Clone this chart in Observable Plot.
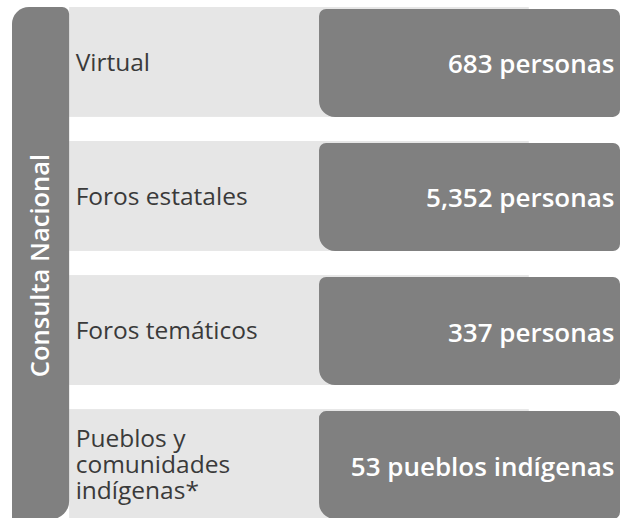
<!DOCTYPE html>
<html>
<head>
<meta charset="utf-8">
<script src="https://cdn.jsdelivr.net/npm/d3@7"></script>
<script src="https://cdn.jsdelivr.net/npm/@observablehq/plot@0.6"></script>
<style>
  html, body { margin: 0; padding: 0; background: #fff; }
  svg { display: block; }
</style>
</head>
<body>
<div id="chart"></div>
<script>
// ---- data ----
const grupo = "Consulta Nacional";
const categorias = ["Virtual", "Foros estatales", "Foros temáticos", "Pueblos y comunidades indígenas*"];
const etiquetas = ["Virtual", "Foros estatales", "Foros temáticos", "Pueblos y\ncomunidades\nindígenas*"];
const valores = [683, 5352, 337, 53];
const unidades = ["personas", "personas", "personas", "pueblos indígenas"];

// ---- layout (row units / column units) ----
const band = 0.82;           // row height in row units (gap = 1 - band)
const colGrupo = 0.094;      // end of group column
const colValor = 0.505;      // start of value column
const fmt = d3.format(",");

const rows = categorias.map((c, i) => ({
  categoria: c,
  etiqueta: etiquetas[i],
  valor: valores[i],
  texto: fmt(valores[i]) + " " + unidades[i],
  i
}));

const chart = Plot.plot({
  width: 620,
  height: 518,
  margin: 0,
  x: {type: "linear", domain: [0, 1], range: [12, 620], axis: null},
  y: {type: "linear", domain: [0, categorias.length - 1 + band], range: [7, 519], axis: null},
  style: {fontFamily: "'Open Sans', sans-serif"},
  marks: [
    // light row backgrounds
    Plot.rect(rows, {x1: colGrupo, x2: 0.85, y1: d => d.i, y2: d => d.i + band, fill: "#e6e6e6"}),
    // dark value boxes
    Plot.rect(rows, {
      x1: colValor, x2: 1, y1: d => d.i, y2: d => d.i + band,
      insetTop: 2, fill: "#808080",
      r: 7, rx1y2: 16
    }),
    // group bar
    Plot.rect([grupo], {
      x1: 0, x2: colGrupo, y1: 0, y2: categorias.length - 1 + band,
      fill: "#808080", r: 7, rx1y1: 17, rx2y2: 18, rx1y2: 0
    }),
    Plot.text([grupo], {
      x: colGrupo / 2, y: (categorias.length - 1 + band) / 2, text: d => d,
      rotate: -90, fill: "white", fontSize: 25.5, fontWeight: 600, dy: 2
    }),
    // labels
    Plot.text(rows, {
      x: colGrupo, y: d => d.i + band / 2, text: "etiqueta",
      textAnchor: "start", dx: 6, fill: "#3a3a3a", fontSize: 24.5, lineHeight: 1.08
    }),
    // values
    Plot.text(rows, {
      x: 1, y: d => d.i + band / 2 + 0.02, text: "texto",
      textAnchor: "end", dx: -6, fill: "white", fontSize: 26, fontWeight: 600
    })
  ]
});
document.getElementById("chart").append(chart);
</script>
</body>
</html>
